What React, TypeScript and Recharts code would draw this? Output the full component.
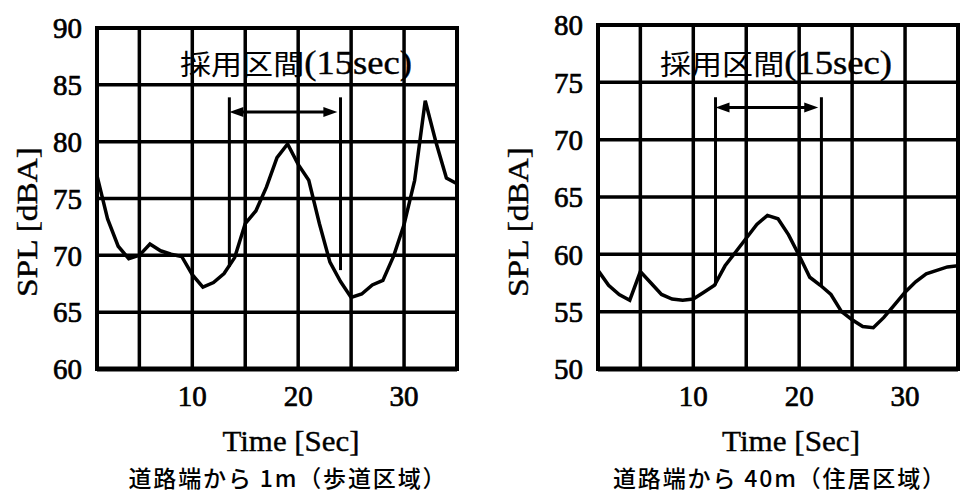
import React from 'react';
import { LineChart, Line, XAxis, YAxis, CartesianGrid, ReferenceLine, ReferenceArea } from 'recharts';

// ---- data ----
const timeSec = [1, 2, 3, 4, 5, 6, 7, 8, 9, 10, 11, 12, 13, 14, 15, 16, 17, 18, 19, 20, 21, 22, 23, 24, 25, 26, 27, 28, 29, 30, 31, 32, 33, 34, 35];
const splNear = [77.0, 73.2, 70.8, 69.7, 70.0, 71.0, 70.4, 70.1, 69.9, 68.3, 67.2, 67.6, 68.4, 69.8, 72.8, 73.9, 76.0, 78.6, 79.8, 78.0, 76.6, 72.8, 69.4, 67.7, 66.3, 66.6, 67.4, 67.8, 69.9, 72.7, 76.6, 83.6, 80.0, 76.8, 76.3];
const splFar = [58.6, 57.3, 56.5, 56.0, 58.5, 57.5, 56.5, 56.1, 56.0, 56.1, 56.7, 57.3, 59.0, 60.2, 61.4, 62.6, 63.4, 63.1, 61.7, 59.9, 58.0, 57.3, 56.5, 55.0, 54.3, 53.7, 53.6, 54.5, 55.6, 56.7, 57.6, 58.3, 58.6, 58.9, 59.0];

const xTicks = [5, 10, 15, 20, 25, 30];
const xDomain = [1, 35];
const yTicksNear = [60, 65, 70, 75, 80, 85, 90];
const yTicksFar = [50, 55, 60, 65, 70, 75, 80];

// adopted interval markers: [start sec, end sec], top level, arrow level, bottom levels
const intervalNear = { start: 13.5, end: 24, top: 83.9, arrow: 82.6, bottomStart: 69.0, bottomEnd: 68.7 };
const intervalFar = { start: 12.1, end: 22.1, top: 73.7, arrow: 72.8, bottomStart: 57.3, bottomEnd: 57.2 };

const intervalTitleCjk = '採用区間';
const intervalTitleLatin = '(15sec)';
const xTitle = 'Time [Sec]';
const yTitle = 'SPL [dBA]';
const captionNear = '道路端から 1m（歩道区域）';
const captionFar = '道路端から 40m（住居区域）';

const rowsNear = timeSec.map((t, i) => ({ t, v: splNear[i] }));
const rowsFar = timeSec.map((t, i) => ({ t, v: splFar[i] }));

const SERIF = '"Liberation Serif", "Times New Roman", serif';
const CJK = '"Noto Sans CJK JP", "Noto Sans CJK SC", sans-serif';

const ArrowShape = (props: any) => {
  const { x1, y1, x2, y2 } = props;
  const h = 14;
  const w = 5;
  return (
    <g>
      <line x1={x1 + h - 2} y1={y1} x2={x2 - h + 2} y2={y2} stroke="#000" strokeWidth={3} />
      <polygon points={`${x1},${y1} ${x1 + h},${y1 - w} ${x1 + h},${y1 + w}`} fill="#000" />
      <polygon points={`${x2},${y2} ${x2 - h},${y2 - w} ${x2 - h},${y2 + w}`} fill="#000" />
    </g>
  );
};

type PanelProps = {
  rows: { t: number; v: number }[];
  yTicks: number[];
  interval: typeof intervalNear;
  left: number;
  top: number;
  plotLeft: number;
  plotRight: number;
  width: number;
  title: { cx: number; len: number };
  xt: { cx: number; len: number };
  yt: { cx: number };
  cap: { cx: number; len: number; text: string };
};

const tickStyle = { fill: '#000', fontSize: 29, fontFamily: SERIF, stroke: '#000', strokeWidth: 0.7 };

const Panel = (p: PanelProps) => {
  const yDomain = [p.yTicks[0], p.yTicks[p.yTicks.length - 1]];
  return (
    <div style={{ position: 'absolute', left: p.left, top: 0 }}>
      <LineChart
        width={p.width}
        height={498}
        data={p.rows}
        margin={{ top: p.top, right: p.width - p.plotRight, bottom: 0, left: 0 }}
      >
        <CartesianGrid stroke="#000" strokeWidth={3.5} />
        <XAxis
          dataKey="t"
          type="number"
          domain={xDomain}
          ticks={xTicks}
          tickFormatter={(v: number) => (v % 10 === 0 ? String(v) : '')}
          height={129}
          tickSize={0}
          tickMargin={16}
          axisLine={{ stroke: '#000', strokeWidth: 5 }}
          tickLine={false}
          tick={tickStyle}
          allowDataOverflow
          label={{
            content: () => (
              <g>
                <text x={p.xt.cx} y={451} textAnchor="middle" fontFamily={SERIF} fontSize={30} fill="#000"
                  stroke="#000" strokeWidth={0.4}
                  textLength={p.xt.len} lengthAdjust="spacingAndGlyphs">{xTitle}</text>
                <text x={p.cap.cx} y={487} textAnchor="middle" fontFamily={CJK} fontSize={23} fontWeight={500} fill="#000"
                  textLength={p.cap.len} lengthAdjust="spacing">{p.cap.text}</text>
              </g>
            ),
          }}
        />
        <YAxis
          type="number"
          domain={yDomain}
          ticks={p.yTicks}
          width={p.plotLeft}
          tickSize={0}
          tickMargin={15}
          axisLine={{ stroke: '#000', strokeWidth: 4 }}
          tickLine={false}
          tick={tickStyle}
          allowDataOverflow
          label={{
            content: () => (
              <text x={0} y={0} transform={`translate(${p.yt.cx + 10},222) rotate(-90)`} textAnchor="middle"
                fontFamily={SERIF} fontSize={29} fill="#000" stroke="#000" strokeWidth={0.4}
                textLength={150} lengthAdjust="spacingAndGlyphs">{yTitle}</text>
            ),
          }}
        />
        <ReferenceArea
          x1={xDomain[0]}
          x2={xDomain[1]}
          y1={yDomain[0]}
          y2={yDomain[1]}
          fill="none"
          fillOpacity={0}
          stroke="#000"
          strokeWidth={4}
          label={{
            content: () => (
              <text x={p.title.cx} y={63} textAnchor="middle" dominantBaseline="central" fontSize={28} fill="#000"
                textLength={p.title.len} lengthAdjust="spacingAndGlyphs">
                <tspan fontFamily={CJK}>{intervalTitleCjk}</tspan>
                <tspan fontFamily={SERIF} fontSize={33} stroke="#000" strokeWidth={0.4}>{intervalTitleLatin}</tspan>
              </text>
            ),
          }}
        />
        <ReferenceLine
          segment={[{ x: p.interval.start, y: p.interval.top }, { x: p.interval.start, y: p.interval.bottomStart }]}
          stroke="#000"
          strokeWidth={3}
        />
        <ReferenceLine
          segment={[{ x: p.interval.end, y: p.interval.top }, { x: p.interval.end, y: p.interval.bottomEnd }]}
          stroke="#000"
          strokeWidth={3}
        />
        <ReferenceLine
          segment={[{ x: p.interval.start, y: p.interval.arrow }, { x: p.interval.end - 0.3, y: p.interval.arrow }]}
          stroke="#000"
          strokeWidth={3}
          shape={ArrowShape}
        />
        <Line
          dataKey="v"
          type="linear"
          stroke="#000"
          strokeWidth={3.5}
          dot={false}
          activeDot={false}
          isAnimationActive={false}
        />
      </LineChart>
    </div>
  );
};

export default function App() {
  return (
    <div style={{ position: 'absolute', left: 0, top: 0, width: 960, height: 498, background: '#fff', overflow: 'hidden' }}>
      <Panel
        rows={rowsNear}
        yTicks={yTicksNear}
        interval={intervalNear}
        left={0}
        top={28}
        plotLeft={97}
        plotRight={457}
        width={480}
        title={{ cx: 296, len: 232 }}
        xt={{ cx: 291, len: 137 }}
        yt={{ cx: 27 }}
        cap={{ cx: 287, len: 317, text: captionNear }}
      />
      <Panel
        rows={rowsFar}
        yTicks={yTicksFar}
        interval={intervalFar}
        left={480}
        top={25}
        plotLeft={118}
        plotRight={478}
        width={480}
        title={{ cx: 296, len: 232 }}
        xt={{ cx: 311, len: 138 }}
        yt={{ cx: 38 }}
        cap={{ cx: 299, len: 332, text: captionFar }}
      />
    </div>
  );
}
